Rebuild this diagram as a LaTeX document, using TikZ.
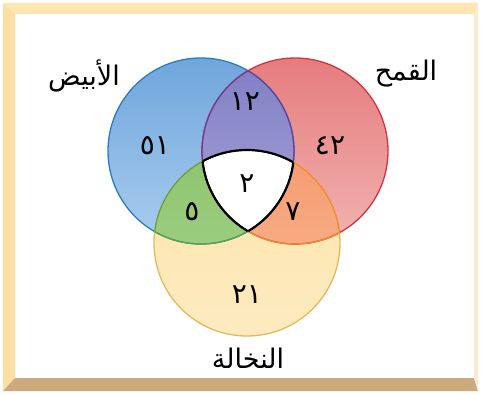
\documentclass[tikz,border=0pt]{standalone}
\usepackage{fontspec}
\newfontfamily\arabicfont[Script=Arabic]{DejaVu Sans}
\TeXXeTstate=1
\definecolor{frametop}{HTML}{FDE6B0}
\definecolor{frameleft}{HTML}{FDDFA2}
\definecolor{framebot}{HTML}{CDAA7D}
\definecolor{frameright}{HTML}{F8EBCF}
\definecolor{bluetop}{HTML}{6FA6DC}
\definecolor{bluebot}{HTML}{A9CDEF}
\definecolor{blueline}{HTML}{2C7BC0}
\definecolor{redtop}{HTML}{E57C7E}
\definecolor{redbot}{HTML}{F2B3B0}
\definecolor{redline}{HTML}{D3323E}
\definecolor{yellowtop}{HTML}{FDE4AA}
\definecolor{yellowbot}{HTML}{FDEBC0}
\definecolor{yellowline}{HTML}{E6B85C}
\definecolor{purpletop}{HTML}{7E7EC4}
\definecolor{purplebot}{HTML}{ABA6D8}
\definecolor{purpleline}{HTML}{6B3FA0}
\definecolor{greentop}{HTML}{8CC46E}
\definecolor{greenbot}{HTML}{ABD590}
\definecolor{greenline}{HTML}{5DA444}
\definecolor{orangetop}{HTML}{F59A6E}
\definecolor{orangebot}{HTML}{F9BC98}
\definecolor{orangeline}{HTML}{F08A30}
\begin{document}
\begin{tikzpicture}[x=1pt, y=-1pt,
    num/.style={font=\arabicfont\fontsize{28}{28}\selectfont},
    lbl/.style={font=\arabicfont\fontsize{27}{27}\selectfont},
    set/.style={radius=93pt}]
\useasboundingbox (0,0) rectangle (482,395);
\fill[white] (0,0) rectangle (482,395);
\fill[frametop] (3,3) -- (478,3) -- (474,14) -- (15,14) -- cycle;
\fill[frameleft] (3,3) -- (15,14) -- (15,378) -- (3,391) -- cycle;
\fill[framebot] (3,391) -- (15,378) -- (474,378) -- (478,391) -- cycle;
\fill[frameright] (478,3) -- (474,14) -- (474,378) -- (478,391) -- cycle;
\coordinate (B) at (201,151);
\coordinate (R) at (295,151);
\coordinate (Y) at (247,243);
\shade[top color=bluetop, bottom color=bluebot] (B) circle[set];
\shade[top color=redtop, bottom color=redbot] (R) circle[set];
\shade[top color=yellowtop, bottom color=yellowbot] (Y) circle[set];
\begin{scope}
  \clip (B) circle[set];
  \shade[top color=purpletop, bottom color=purplebot] (R) circle[set];
  \shade[top color=greentop, bottom color=greenbot] (Y) circle[set];
\end{scope}
\begin{scope}
  \clip (R) circle[set];
  \shade[top color=orangetop, bottom color=orangebot] (Y) circle[set];
\end{scope}
\begin{scope}
  \clip (B) circle[set]; \clip (R) circle[set];
  \fill[white] (Y) circle[set];
\end{scope}
\draw[blueline, line width=1.3pt] (B) circle[set];
\draw[redline, line width=1.3pt] (R) circle[set];
\draw[yellowline, line width=1.3pt] (Y) circle[set];
\begin{scope}
  \clip (R) circle[set];
  \draw[purpleline, line width=1.3pt] (B) circle[set];
\end{scope}
\begin{scope}
  \clip (B) circle[set];
  \draw[purpleline, line width=1.3pt] (R) circle[set];
  \draw[greenline, line width=1.3pt] (Y) circle[set];
\end{scope}
\begin{scope}
  \clip (Y) circle[set];
  \draw[greenline, line width=1.3pt] (B) circle[set];
  \draw[orangeline, line width=1.3pt] (R) circle[set];
\end{scope}
\begin{scope}
  \clip (R) circle[set];
  \draw[orangeline, line width=1.3pt] (Y) circle[set];
\end{scope}
\begin{scope}
  \clip (B) circle[set]; \clip (R) circle[set];
  \draw[black, line width=2.2pt] (Y) circle[set];
\end{scope}
\begin{scope}
  \clip (B) circle[set]; \clip (Y) circle[set];
  \draw[black, line width=2.2pt] (R) circle[set];
\end{scope}
\begin{scope}
  \clip (R) circle[set]; \clip (Y) circle[set];
  \draw[black, line width=2.2pt] (B) circle[set];
\end{scope}
\node[lbl] (white) at (84,76) {\beginR الأبيض\endR};
\node[lbl] (wheat) at (406,74) {\beginR القمح\endR};
\node[lbl] (bran) at (248,358) {\beginR النخالة\endR};
\node[num] (n51) at (155,146) {٥١};
\node[num] (n12) at (245,102) {١٢};
\node[num] (n42) at (330,146) {٤٢};
\node[num] (n2) at (247,184) {٢};
\node[num] (n5) at (192,212) {٥};
\node[num] (n7) at (293,212) {٧};
\node[num] (n21) at (247,295) {٢١};
\end{tikzpicture}
\end{document}
